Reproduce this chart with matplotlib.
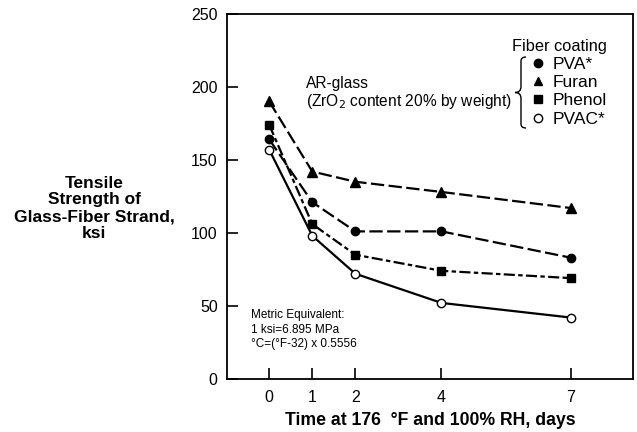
import matplotlib
matplotlib.use("Agg")
import matplotlib.pyplot as plt
from matplotlib.lines import Line2D
from matplotlib.path import Path
import matplotlib.patches as mpatches

plt.rcParams['font.family'] = ['Liberation Sans', 'DejaVu Sans']

# data
days = [0, 1, 2, 4, 7]
pva = [164, 121, 101, 101, 83]
furan = [190, 142, 135, 128, 117]
phenol = [174, 106, 85, 74, 69]
pvac = [157, 98, 72, 52, 42]
coatings = ["PVA*", "Furan", "Phenol", "PVAC*"]

fig = plt.figure(figsize=(6.37, 4.32), dpi=100)
ax = fig.add_axes([0.357, 0.123, 0.637, 0.845])

lw = 1.6
ax.plot(days, furan, color="black", lw=lw, dashes=(6, 2), marker="^", ms=6.5)
ax.plot(days, pva, color="black", lw=lw, dashes=(6, 2), marker="o", ms=6)
ax.plot(days, phenol, color="black", lw=lw, dashes=(5, 1.5, 2, 1.5), marker="s", ms=6)
ax.plot(days, pvac, color="black", lw=lw, marker="o", ms=6, mfc="white", mew=1.0)

ax.set_xlim(-0.97, 8.45)
ax.set_ylim(0, 250)
ax.set_xticks(days)
ax.set_yticks([0, 50, 100, 150, 200, 250])
ax.tick_params(direction="in", length=8, width=1.2, labelsize=11.5, pad=8)
ax.tick_params(axis="y", pad=7)
for s in ax.spines.values():
    s.set_linewidth(1.3)

ax.set_xlabel("Time at 176  \u00b0F and 100% RH, days", fontsize=12.7, fontweight="bold", labelpad=5)
fig.text(0.148, 0.518, "Tensile\nStrength of\nGlass-Fiber Strand,\nksi", ha="center", va="center",
         fontsize=12.5, fontweight="bold", linespacing=1.13)

ax.text(0.193, 0.782, "AR-glass\n(ZrO$_2$ content 20% by weight)", transform=ax.transAxes,
        fontsize=11.2, va="center", ha="left", linespacing=1.12)

ax.text(0.059, 0.135, "Metric Equivalent:\n1 ksi=6.895 MPa\n\u00b0C=(\u00b0F-32) x 0.5556",
        transform=ax.transAxes, fontsize=8.5, va="center", ha="left", linespacing=1.3)

# legend with brace
markers = [dict(marker="o", mfc="black"), dict(marker="^", mfc="black"),
           dict(marker="s", mfc="black"), dict(marker="o", mfc="white")]
handles = [Line2D([], [], ls="none", color="black", ms=6, mew=1.0, **m) for m in markers]
leg = ax.legend(handles, coatings, title="Fiber coating", frameon=False, fontsize=12.5,
                title_fontsize=11.8, handlelength=0.8, handletextpad=0.45, labelspacing=0.18,
                loc="upper right", bbox_to_anchor=(0.957, 0.956), borderpad=0)
leg._legend_box.align = "right"

# brace drawn in figure pixels
W, H = 637, 432
bx, y0, y1 = 521, 57, 128
ym = (y0 + y1) / 2
pts = [(bx + 5, y0), (bx, y0), (bx, y0 + 4), (bx, ym - 6), (bx, ym), (bx - 6, ym),
       (bx, ym), (bx, ym + 6), (bx, y1 - 4), (bx, y1), (bx + 5, y1)]
pts = [(x / W, 1 - y / H) for x, y in pts]
codes = [Path.MOVETO, Path.CURVE3, Path.CURVE3, Path.LINETO, Path.CURVE3, Path.CURVE3,
         Path.CURVE3, Path.CURVE3, Path.LINETO, Path.CURVE3, Path.CURVE3]
fig.patches.append(mpatches.PathPatch(Path(pts, codes), transform=fig.transFigure,
                                      fill=False, lw=1.0, color="black"))

fig.savefig("out.png", dpi=100)
